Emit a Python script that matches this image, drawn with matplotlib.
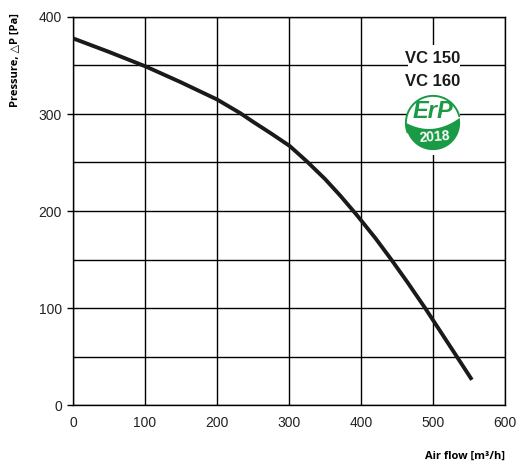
import numpy as np
import matplotlib
matplotlib.use("Agg")
import matplotlib.pyplot as plt
from matplotlib.patches import Polygon, Rectangle

# characteristic curve
flow = [0, 50, 101, 149, 200, 232, 250, 275, 301, 325, 350, 371, 394, 420,
        442, 465, 489, 511, 533, 554]
pressure = [378, 364, 349, 333, 315, 301, 292, 280, 267, 251, 233, 216, 196,
            172, 150, 126, 100, 75, 50, 26]

x_ticks = [0, 100, 200, 300, 400, 500, 600]
y_ticks = [0, 100, 200, 300, 400]
y_grid = [50, 150, 250, 350]
models = ["VC 150", "VC 160"]

W, H = 516, 465
fig = plt.figure(figsize=(W / 100, H / 100), dpi=100)
ax = fig.add_axes([73 / W, 1 - 405 / H, 432 / W, 388 / H])

ax.set_xlim(0, 600)
ax.set_ylim(0, 400)
ax.set_xticks(x_ticks)
ax.set_yticks(y_ticks)
ax.set_yticks(y_grid, minor=True)
ax.grid(True, which="both", color="black", lw=1.0)
ax.set_axisbelow(True)
ax.tick_params(axis="x", length=0, pad=8, labelsize=10, labelcolor="#222222")
ax.tick_params(axis="y", which="major", length=4, width=1, direction="out",
               pad=4, labelsize=10, labelcolor="#222222")
ax.tick_params(axis="y", which="minor", length=0)
for lab in ax.get_xticklabels() + ax.get_yticklabels():
    lab.set_family("Liberation Sans")
for s in ax.spines.values():
    s.set_linewidth(1.0)

ax.plot(flow, pressure, color="#1a1a1a", lw=2.8, solid_capstyle="butt",
        solid_joinstyle="round", zorder=3)

# white patch breaking the grid behind the model labels and logo
ax.add_patch(Rectangle((465, 258), 73, 113, facecolor="white", edgecolor="none",
                       zorder=2))
for i, m in enumerate(models):
    ax.text(500, 357 - i * 24, m, ha="center", va="center", fontsize=12,
            fontweight="bold", family="Liberation Sans", color="#1a1a1a",
            zorder=4)

fig.text(15 / W, 1 - 60 / H, "Pressure, \u25b3P [Pa]", rotation=90, ha="center",
         va="center", fontsize=8, fontweight="bold",
         family=["Open Sans", "DejaVu Sans"])
fig.text(505 / W, 1 - 456 / H, "Air flow [m\u00b3/h]", ha="right", va="center",
         fontsize=8, fontweight="bold", family=["Open Sans", "DejaVu Sans"])

# ErP logo
green = "#1a9a45"
lg = fig.add_axes([(433 - 32) / W, 1 - (123 + 32) / H, 64 / W, 64 / H])
lg.set_xlim(-1.18, 1.18)
lg.set_ylim(-1.18, 1.18)
lg.set_aspect("equal")
lg.axis("off")
t = np.linspace(np.radians(15), np.radians(200), 60)
lg.plot(np.cos(t), np.sin(t), color=green, lw=1.4)
# leaf shaped lower part
tb = np.linspace(np.radians(190), np.radians(372), 80)
arc = np.column_stack([np.cos(tb), np.sin(tb)])
xs = np.linspace(0.97, -0.98, 60)
top = np.column_stack([xs, 0.2 - 0.42 * (1 - ((xs + 0.15) / 1.15) ** 2)])
lg.add_patch(Polygon(np.vstack([arc, top]), closed=True, facecolor=green,
                     edgecolor="none"))
lg.text(-0.02, 0.42, "ErP", ha="center", va="center", fontsize=17,
        fontweight="bold", style="italic", color=green, family="Liberation Sans")
lg.text(0.05, -0.52, "2018", ha="center", va="center", fontsize=10,
        fontweight="bold", color="white", family="Liberation Sans", rotation=4)

fig.savefig("out.png", dpi=100)
